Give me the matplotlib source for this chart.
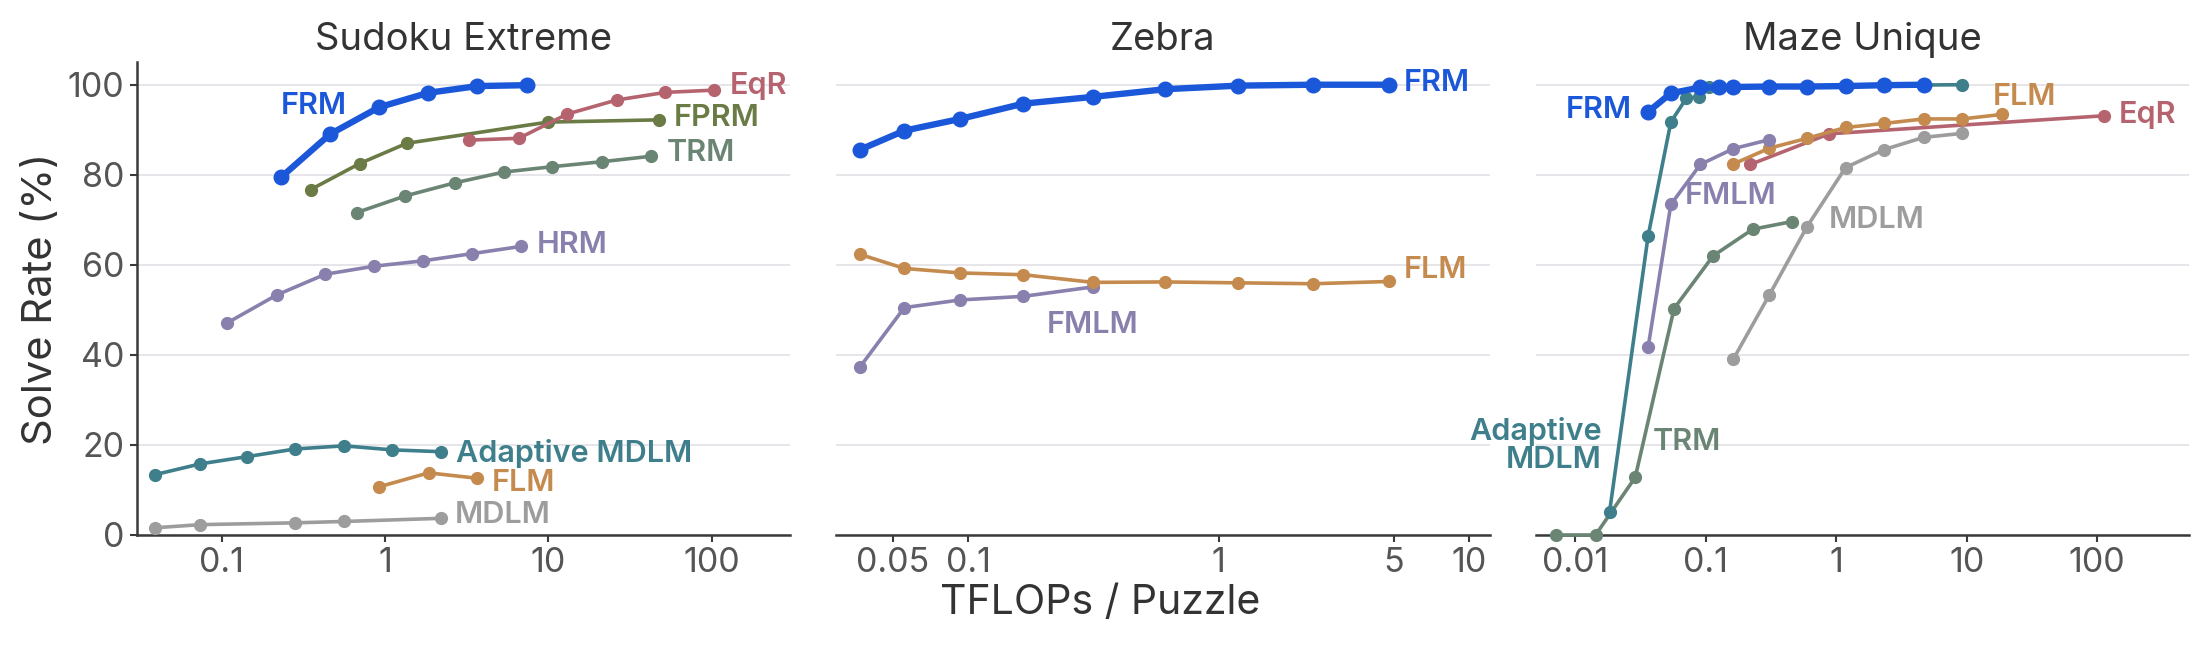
import matplotlib
matplotlib.use("Agg")
import matplotlib.pyplot as plt

plt.rcParams['font.family'] = ['Inter', 'DejaVu Sans']

# ---------------- colours ----------------
C_FRM = '#1b57d9'
C_FPRM = '#6b7b45'
C_EQR = '#b5646f'
C_TRM = '#6b8574'
C_HRM = '#8a80ad'
C_AMDLM = '#3e7f8b'
C_FLM = '#c48a4e'
C_MDLM = '#9d9d9d'

# ---------------- Sudoku Extreme ----------------
sud_frm_x = [0.23, 0.46, 0.92, 1.84, 3.68, 7.36]
sud_frm_y = [79.4, 89.0, 95.0, 98.2, 99.7, 99.9]
sud_fprm_x = [0.35, 0.70, 1.36, 9.96, 47.5]
sud_fprm_y = [76.7, 82.5, 87.0, 91.7, 92.2]
sud_eqr_x = [3.27, 6.6, 13.1, 26.2, 52.2, 104]
sud_eqr_y = [87.7, 88.1, 93.5, 96.6, 98.3, 98.8]
sud_trm_x = [0.67, 1.33, 2.67, 5.34, 10.6, 21.3, 42.3]
sud_trm_y = [71.6, 75.3, 78.2, 80.6, 81.8, 82.9, 84.1]
sud_hrm_x = [0.108, 0.217, 0.43, 0.86, 1.72, 3.43, 6.84]
sud_hrm_y = [47.1, 53.3, 57.9, 59.7, 60.9, 62.5, 64.1]
sud_amdlm_x = [0.039, 0.074, 0.143, 0.281, 0.56, 1.11, 2.2]
sud_amdlm_y = [13.4, 15.8, 17.4, 19.1, 19.8, 18.9, 18.5]
sud_flm_x = [0.92, 1.85, 3.67]
sud_flm_y = [10.7, 13.8, 12.6]
sud_mdlm_x = [0.039, 0.074, 0.281, 0.56, 2.2]
sud_mdlm_y = [1.6, 2.3, 2.7, 3.0, 3.7]

# ---------------- Zebra ----------------
zeb_x = [0.037, 0.0555, 0.0927, 0.166, 0.315, 0.61, 1.2, 2.38, 4.78]
zeb_frm_y = [85.6, 89.8, 92.4, 95.8, 97.3, 99.0, 99.8, 100.0, 100.0]
zeb_flm_y = [62.3, 59.2, 58.2, 57.8, 56.1, 56.2, 56.0, 55.8, 56.3]
zeb_fmlm_x = [0.037, 0.0555, 0.0927, 0.166, 0.315]
zeb_fmlm_y = [37.4, 50.5, 52.2, 53.0, 55.1]

# ---------------- Maze Unique ----------------
maz_frm_x = [0.0362, 0.054, 0.091, 0.127, 0.163, 0.307, 0.598, 1.18, 2.33, 4.67]
maz_frm_y = [94.0, 98.1, 99.4, 99.4, 99.5, 99.6, 99.6, 99.7, 99.9, 100.0]
maz_amdlm_x = [0.0183, 0.0362, 0.054, 0.071, 0.089, 0.105, 9.25]
maz_amdlm_y = [5.1, 66.5, 91.7, 97.0, 97.3, 99.6, 100.0]
maz_trm_x = [0.0071, 0.0143, 0.0288, 0.0572, 0.114, 0.229, 0.457]
maz_trm_y = [0.0, 0.0, 12.8, 50.3, 62.0, 67.9, 69.6]
maz_fmlm_x = [0.0362, 0.054, 0.091, 0.163, 0.307]
maz_fmlm_y = [41.8, 73.4, 82.3, 85.8, 87.8]
maz_flm_x = [0.163, 0.307, 0.598, 1.18, 2.33, 4.67, 9.25, 18.5]
maz_flm_y = [82.4, 85.9, 88.1, 90.5, 91.4, 92.4, 92.4, 93.4]
maz_eqr_x = [0.22, 0.885, 112]
maz_eqr_y = [82.3, 89.1, 93.1]
maz_mdlm_x = [0.163, 0.307, 0.598, 1.18, 2.33, 4.67, 9.25]
maz_mdlm_y = [39.1, 53.3, 68.5, 81.6, 85.6, 88.3, 89.2]

titles = ['Sudoku Extreme', 'Zebra', 'Maze Unique']
xlims = [(0.0303, 304), (0.0297, 12.1), (0.00497, 506)]
xticks = [[0.1, 1, 10, 100], [0.05, 0.1, 1, 5, 10], [0.01, 0.1, 1, 10, 100]]
xticklabels = [['0.1', '1', '10', '100'], ['0.05', '0.1', '1', '5', '10'],
               ['0.01', '0.1', '1', '10', '100']]
yticks = [0, 20, 40, 60, 80, 100]

fig, axes = plt.subplots(1, 3, figsize=(22, 6.48), dpi=100, sharey=True)
fig.subplots_adjust(left=0.0623, right=0.995, bottom=0.1744, top=0.904, wspace=0.0704)

LW = 2.6
MS = 8.5
LW_F = 4.6
MS_F = 10.5


def line(ax, x, y, c, frm=False):
    if frm:
        ax.plot(x, y, '-o', color=c, lw=LW_F, ms=MS_F, zorder=5, clip_on=False)
    else:
        ax.plot(x, y, '-o', color=c, lw=LW, ms=MS, zorder=3, clip_on=False)


def lab(ax, x, y, s, c, ha='left', va='center'):
    ax.text(x, y, s, color=c, ha=ha, va=va, fontsize=22, fontweight='semibold',
            multialignment='right', linespacing=1.0, zorder=6)


a0, a1, a2 = axes
# Sudoku
line(a0, sud_mdlm_x, sud_mdlm_y, C_MDLM)
line(a0, sud_flm_x, sud_flm_y, C_FLM)
line(a0, sud_amdlm_x, sud_amdlm_y, C_AMDLM)
line(a0, sud_hrm_x, sud_hrm_y, C_HRM)
line(a0, sud_trm_x, sud_trm_y, C_TRM)
line(a0, sud_fprm_x, sud_fprm_y, C_FPRM)
line(a0, sud_eqr_x, sud_eqr_y, C_EQR)
line(a0, sud_frm_x, sud_frm_y, C_FRM, frm=True)
lab(a0, 0.585, 95.3, 'FRM', C_FRM, ha='right')
lab(a0, 129, 99.7, 'EqR', C_EQR)
lab(a0, 58.5, 92.6, 'FPRM', C_FPRM)
lab(a0, 53, 84.8, 'TRM', C_TRM)
lab(a0, 8.45, 64.5, 'HRM', C_HRM)
lab(a0, 2.73, 18.2, 'Adaptive MDLM', C_AMDLM)
lab(a0, 4.49, 11.6, 'FLM', C_FLM)
lab(a0, 2.69, 4.5, 'MDLM', C_MDLM)

# Zebra
line(a1, zeb_fmlm_x, zeb_fmlm_y, C_HRM)
line(a1, zeb_x, zeb_flm_y, C_FLM)
line(a1, zeb_x, zeb_frm_y, C_FRM, frm=True)
lab(a1, 5.48, 100.3, 'FRM', C_FRM)
lab(a1, 5.48, 58.9, 'FLM', C_FLM)
lab(a1, 0.315, 46.7, 'FMLM', C_HRM, ha='center')

# Maze
line(a2, maz_mdlm_x, maz_mdlm_y, C_MDLM)
line(a2, maz_trm_x, maz_trm_y, C_TRM)
line(a2, maz_eqr_x, maz_eqr_y, C_EQR)
line(a2, maz_flm_x, maz_flm_y, C_FLM)
line(a2, maz_fmlm_x, maz_fmlm_y, C_HRM)
line(a2, maz_amdlm_x, maz_amdlm_y, C_AMDLM)
line(a2, maz_frm_x, maz_frm_y, C_FRM, frm=True)
lab(a2, 0.0272, 94.4, 'FRM', C_FRM, ha='right')
lab(a2, 15.8, 97.2, 'FLM', C_FLM)
lab(a2, 146, 93.3, 'EqR', C_EQR)
lab(a2, 0.0693, 75.2, 'FMLM', C_HRM)
lab(a2, 0.877, 70.0, 'MDLM', C_MDLM)
lab(a2, 0.0389, 20.7, 'TRM', C_TRM)
lab(a2, 0.0159, 19.8, 'Adaptive\nMDLM', C_AMDLM, ha='right')

for i, ax in enumerate(axes):
    ax.set_xscale('log')
    ax.set_xlim(*xlims[i])
    ax.set_ylim(0, 105)
    ax.set_xticks(xticks[i])
    ax.set_xticklabels(xticklabels[i])
    ax.xaxis.set_minor_locator(matplotlib.ticker.NullLocator())
    ax.set_yticks(yticks)
    ax.set_title(titles[i], fontsize=27.5, color='#333333', pad=9)
    ax.grid(axis='y', color='#e6e6ea', lw=1.4, zorder=0)
    ax.set_axisbelow(True)
    for s in ['top', 'right']:
        ax.spines[s].set_visible(False)
    ax.spines['bottom'].set_color('#3a3a3a')
    ax.spines['bottom'].set_linewidth(1.8)
    ax.spines['left'].set_color('#3a3a3a')
    ax.spines['left'].set_linewidth(1.8)
    ax.tick_params(axis='both', labelsize=24.5, colors='#3a3a3a', labelcolor='#555555',
                   length=5, width=1.5, pad=4)
    if i > 0:
        ax.spines['left'].set_visible(False)
        ax.tick_params(axis='y', left=False, labelleft=False)

a0.set_ylabel('Solve Rate (%)', fontsize=30, color='#333333', labelpad=6)
a1.set_xlabel('TFLOPs / Puzzle', fontsize=29.5, color='#333333', labelpad=3)
a1.xaxis.label.set_x(0.404)

fig.savefig('out.png', dpi=100)
